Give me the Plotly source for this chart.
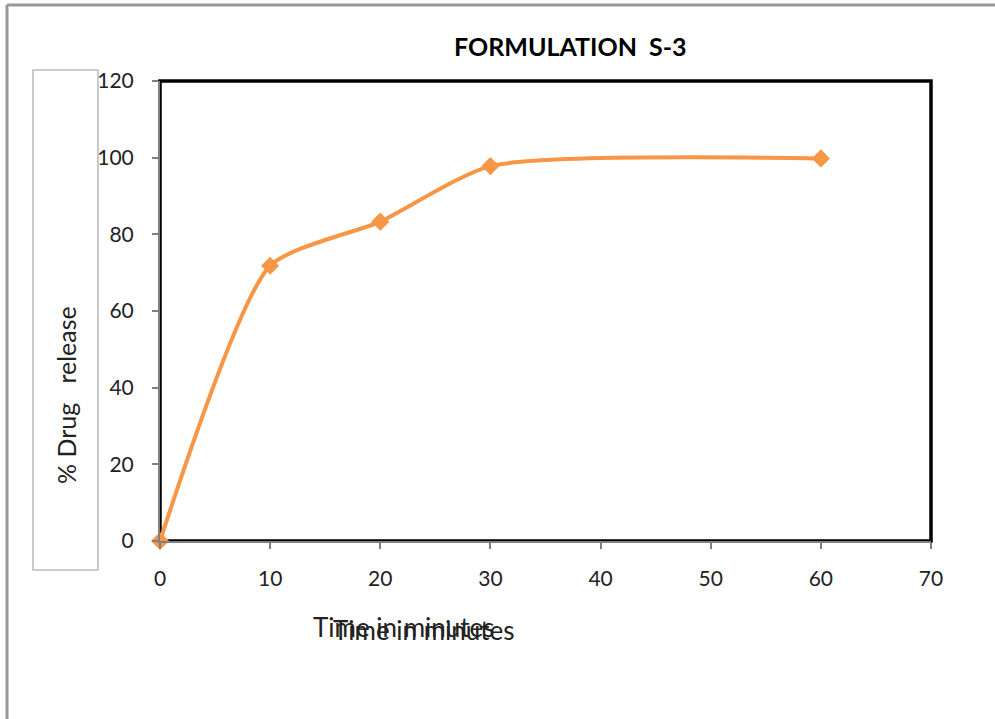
import plotly.graph_objects as go

time_min = [0, 10, 20, 30, 60]
drug_release = [0, 71.8, 83.3, 97.8, 99.8]
x_ticks = [0, 10, 20, 30, 40, 50, 60, 70]
y_ticks = [0, 20, 40, 60, 80, 100, 120]

W, H = 995, 719
L, R, T, B = 160, 931, 81, 541
FONT = "Lato"
ORANGE = "#F79646"

def px(x):
    return (x - L) / (R - L)

def py(y):
    return (B - y) / (B - T)

fig = go.Figure()
fig.add_trace(go.Scatter(
    x=time_min, y=drug_release, mode="lines+markers",
    line=dict(color=ORANGE, width=4, shape="spline", smoothing=0.6),
    marker=dict(symbol="diamond", size=14, color=ORANGE),
    showlegend=False, cliponaxis=False,
))

fig.update_layout(
    width=W, height=H,
    margin=dict(l=L, r=W - R, t=T, b=H - B),
    paper_bgcolor="white", plot_bgcolor="white",
    font=dict(family=FONT, size=21, color="#222"),
    xaxis=dict(range=[0, 70], tickvals=x_ticks, showgrid=False, zeroline=False,
               showline=True, linecolor="#808080", linewidth=2,
               ticks="outside", ticklen=6, tickcolor="#808080", tickwidth=1.5,
               ticklabelstandoff=12,
               tickfont=dict(family=FONT, size=21, color="#222")),
    yaxis=dict(range=[0, 120], tickvals=y_ticks, showgrid=False, zeroline=False,
               showline=True, linecolor="#808080", linewidth=2,
               ticks="outside", ticklen=6, tickcolor="#808080", tickwidth=1.5,
               ticklabelstandoff=14,
               tickfont=dict(family=FONT, size=21, color="#222")),
)

shapes = []
# plot frame
shapes.append(dict(type="rect", xref="paper", yref="paper", x0=0, x1=1, y0=0, y1=1,
                   line=dict(color="black", width=3.5), layer="below"))
# outer gray border (left and top)
shapes.append(dict(type="line", xref="paper", yref="paper",
                   x0=px(7), x1=px(7), y0=py(5), y1=py(719),
                   line=dict(color="#999999", width=3)))
shapes.append(dict(type="line", xref="paper", yref="paper",
                   x0=px(7), x1=px(995), y0=py(5), y1=py(5),
                   line=dict(color="#999999", width=3)))
# y title box
shapes.append(dict(type="rect", xref="paper", yref="paper",
                   x0=px(33), x1=px(98), y0=py(570), y1=py(70),
                   line=dict(color="#BBBBBB", width=1.5)))
fig.update_layout(shapes=shapes)

ann = []
ann.append(dict(text="<b>FORMULATION  S-3</b>", xref="paper", yref="paper",
                x=px(570), y=py(46), showarrow=False, xanchor="center", yanchor="middle",
                font=dict(family=FONT, size=25, color="black")))
ann.append(dict(text="% Drug   release", xref="paper", yref="paper",
                x=px(66), y=py(395), showarrow=False, textangle=-90,
                xanchor="center", yanchor="middle",
                font=dict(family=FONT, size=25, color="#222")))
ann.append(dict(text="Time in minutes", xref="paper", yref="paper",
                x=px(311), y=py(627), showarrow=False, xanchor="left", yanchor="middle",
                font=dict(family=FONT, size=26, color="#222")))
ann.append(dict(text="Time in minutes", xref="paper", yref="paper",
                x=px(331), y=py(630), showarrow=False, xanchor="left", yanchor="middle",
                font=dict(family=FONT, size=26, color="#222")))
fig.update_layout(annotations=ann)

fig.write_html("out.html")
